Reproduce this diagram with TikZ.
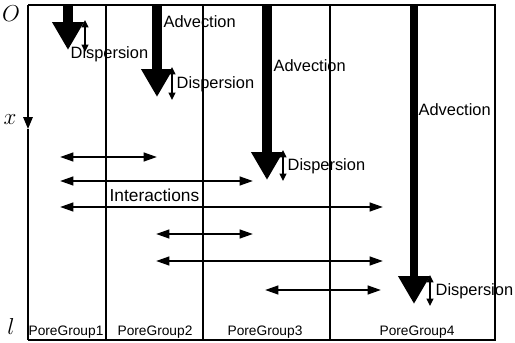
\documentclass[tikz,border=0pt]{standalone}
\usepackage{fontspec}
\setmainfont{Liberation Sans}
\usetikzlibrary{arrows.meta}

\tikzset{every picture/.style={line width=1pt}}
\tikzset{
  advect/.style={-{Triangle[width=22.5pt,length=21pt]}},
  disp/.style={line width=1.2pt,{Triangle[width=5pt,length=5.5pt]}-{Triangle[width=5pt,length=5.5pt]}},
  inter/.style={line width=1.6pt,{Triangle[width=6.5pt,length=10pt]}-{Triangle[width=6.5pt,length=10pt]}},
  lbl/.style={font=\fontsize{12.3}{14}\selectfont,inner sep=0pt,anchor=west},
  grp/.style={font=\fontsize{10.3}{12}\selectfont,inner sep=0pt},
  axlbl/.style={font=\fontsize{16}{18}\selectfont,inner sep=0pt},
}

\begin{document}
\begin{tikzpicture}[x=0.75pt,y=0.75pt,yscale=-1,xscale=1]
\useasboundingbox (0,0) rectangle (515,343);

%Shape: Frame
\draw (28,5) -- (495,5) -- (495,340) -- (28,340) ;
%Straight Lines: pore group dividers
\draw (106,5) -- (106,340) ;
\draw (203,5) -- (203,340) ;
\draw (330,5) -- (330,340) ;

%Axis
\coordinate (o) at (28,5);
\coordinate (xtip) at (28,129);
\coordinate (lend) at (28,340);
\draw [line width=1.6pt,-{Triangle[width=7pt,length=9pt]}] (o) -- (xtip) ;
\draw [line width=1.6pt] (xtip) -- (lend) ;

%Advection arrows
\coordinate (a1s) at (68,5);   \coordinate (a1e) at (68,50);
\coordinate (a2s) at (157,5);  \coordinate (a2e) at (157,97);
\coordinate (a3s) at (267,5);  \coordinate (a3e) at (267,180);
\coordinate (a4s) at (414,5);  \coordinate (a4e) at (414,304);
\draw [advect,line width=7.5pt] (a1s) -- (a1e) ;
\draw [advect,line width=8pt] (a2s) -- (a2e) ;
\draw [advect,line width=7pt] (a3s) -- (a3e) ;
\draw [advect,line width=6pt] (a4s) -- (a4e) ;

%Dispersion arrows
\coordinate (d1t) at (85,20);   \coordinate (d1b) at (85,52);
\coordinate (d2t) at (172,67);  \coordinate (d2b) at (172,100);
\coordinate (d3t) at (283,150); \coordinate (d3b) at (283,181);
\coordinate (d4t) at (430,275); \coordinate (d4b) at (430,306);
\draw [disp] (d1t) -- (d1b) ;
\draw [disp] (d2t) -- (d2b) ;
\draw [disp] (d3t) -- (d3b) ;
\draw [disp] (d4t) -- (d4b) ;

%Interaction arrows
\coordinate (i1l) at (60,157);  \coordinate (i1r) at (157,157);
\coordinate (i2l) at (60,181);  \coordinate (i2r) at (253,181);
\coordinate (i3l) at (60,207);  \coordinate (i3r) at (383,207);
\coordinate (i4l) at (156,234); \coordinate (i4r) at (253,234);
\coordinate (i5l) at (156,261); \coordinate (i5r) at (383,261);
\coordinate (i6l) at (265,290); \coordinate (i6r) at (381,290);
\draw [inter] (i1l) -- (i1r) ;
\draw [inter] (i2l) -- (i2r) ;
\draw [inter] (i3l) -- (i3r) ;
\draw [inter] (i4l) -- (i4r) ;
\draw [inter] (i5l) -- (i5r) ;
\draw [inter] (i6l) -- (i6r) ;

% Text Node
\node [axlbl] (lo) at (11,14) {$O$};
% Text Node
\node [axlbl] (lx) at (10,120) {$x$};
% Text Node
\node [axlbl] (ll) at (11,326) {$l$};
% Text Node
\node [lbl] (adv2) at (163,22) {Advection};
% Text Node
\node [lbl] (adv3) at (273,66) {Advection};
% Text Node
\node [lbl] (adv4) at (418,110) {Advection};
% Text Node
\node [lbl] (dis1) at (70,54) {Dispersion};
% Text Node
\node [lbl] (dis2) at (176,84) {Dispersion};
% Text Node
\node [lbl] (dis3) at (287,166) {Dispersion};
% Text Node
\node [lbl] (dis4) at (435,291) {Dispersion};
% Text Node
\node [lbl,font=\fontsize{13}{15}\selectfont] (inter) at (109,195) {Interactions};
% Text Node
\node [grp] (pg1) at (66,332) {PoreGroup1};
% Text Node
\node [grp] (pg2) at (155,332) {PoreGroup2};
% Text Node
\node [grp] (pg3) at (265,332) {PoreGroup3};
% Text Node
\node [grp] (pg4) at (417,332) {PoreGroup4};

\end{tikzpicture}
\end{document}
